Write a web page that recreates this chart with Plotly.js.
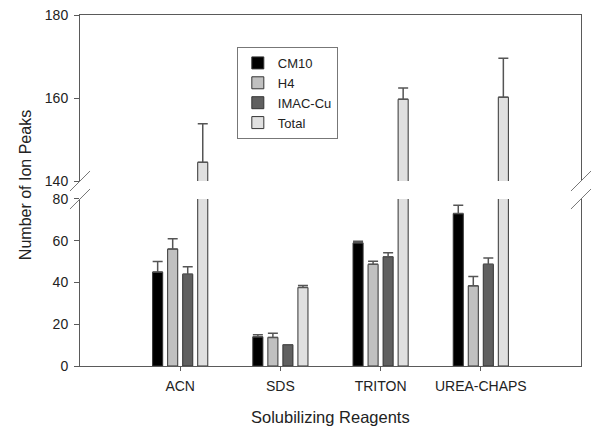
<!DOCTYPE html>
<html>
<head>
<meta charset="utf-8">
<script src="https://cdn.plot.ly/plotly-3.0.1.min.js"></script>
<style>html,body{margin:0;padding:0;background:#fff;}#chart{width:600px;height:432px;}</style>
</head>
<body>
<div id="chart"></div>
<script>
const categories = ["ACN", "SDS", "TRITON", "UREA-CHAPS"];
const seriesNames = ["CM10", "H4", "IMAC-Cu", "Total"];
const cm10 = [45, 14, 59, 73];
const cm10Err = [5, 1, 0.7, 4];
const h4 = [56, 13.7, 48.7, 38.4];
const h4Err = [5, 2, 1.5, 4.5];
const imac = [44, 10.2, 52.3, 48.7];
const imacErr = [3.5, 0, 2, 3];
const total = [144.5, 37.6, 159.7, 160.2];
const totalErr = [9.3, 1, 2.7, 9.4];
const noErr = [0, 0, 0, 0];
const lowerTicks = [0, 20, 40, 60, 80];
const upperTicks = [140, 160, 180];

const values = [cm10, h4, imac, total];
const errs = [cm10Err, h4Err, imacErr, totalErr];
const colors = ["#000000", "#c0c0c0", "#606060", "#e0e0e0"];

const traces = [];
[["x", "y", true], ["x2", "y2", false]].forEach(function (ax) {
  seriesNames.forEach(function (name, i) {
    traces.push({
      type: "bar",
      name: name,
      x: categories,
      y: values[i],
      xaxis: ax[0],
      yaxis: ax[1],
      showlegend: ax[2],
      marker: { color: colors[i], line: { color: "#333333", width: 1 } },
      error_y: {
        type: "data", symmetric: false, array: errs[i], arrayminus: noErr,
        color: "#555555", thickness: 1.5, width: 5
      },
      hoverinfo: "skip"
    });
  });
});

const lowTop = 0.4758, upBot = 0.527;
const dx = 0.02, dy = 0.0285;
function slash(xc, yc) {
  return { type: "line", xref: "paper", yref: "paper",
    x0: xc - dx, y0: yc - dy, x1: xc + dx, y1: yc + dy,
    line: { color: "#777777", width: 1 } };
}

const fontFam = "Liberation Sans, Arial, sans-serif";
const layout = {
  width: 600, height: 432,
  margin: { l: 80, r: 19, t: 15, b: 66 },
  paper_bgcolor: "#ffffff", plot_bgcolor: "#ffffff",
  font: { family: fontFam, size: 14, color: "#222222" },
  barmode: "group", bargap: 0.4, bargroupgap: 0.33,
  showlegend: true,
  legend: {
    x: 0.313, y: 0.909, xanchor: "left", yanchor: "top",
    bordercolor: "#777777", borderwidth: 1, bgcolor: "#ffffff",
    font: { family: fontFam, size: 13, color: "#222222" },
    traceorder: "normal"
  },
  xaxis: {
    anchor: "y", range: [-1, 4], type: "category",
    showline: true, linecolor: "#5a5a5a", linewidth: 1,
    ticks: "outside", ticklen: 4, tickcolor: "#5a5a5a",
    showgrid: false, zeroline: false, ticklabelstandoff: 3,
    tickfont: { size: 14, color: "#222222" }
  },
  xaxis2: {
    anchor: "y2", range: [-1, 4], type: "category", side: "top",
    showline: true, linecolor: "#5a5a5a", linewidth: 1,
    ticks: "", showticklabels: false, showgrid: false, zeroline: false
  },
  yaxis: {
    anchor: "x", domain: [0, lowTop], range: [0, 80],
    tickvals: lowerTicks, ticks: "outside", ticklen: 5, tickcolor: "#5a5a5a",
    showline: true, mirror: true, linecolor: "#5a5a5a", linewidth: 1,
    showgrid: false, zeroline: false, ticklabelstandoff: 3,
    tickfont: { size: 14, color: "#222222" }
  },
  yaxis2: {
    anchor: "x2", domain: [upBot, 1], range: [140, 180],
    tickvals: upperTicks, ticks: "outside", ticklen: 5, tickcolor: "#5a5a5a",
    showline: true, mirror: true, linecolor: "#5a5a5a", linewidth: 1,
    showgrid: false, zeroline: false, ticklabelstandoff: 3,
    tickfont: { size: 14, color: "#222222" }
  },
  shapes: [slash(0, upBot), slash(0, lowTop), slash(1, upBot), slash(1, lowTop)],
  annotations: [
    { text: "Number of Ion Peaks", xref: "paper", yref: "paper",
      x: -0.11, y: 0.515, xanchor: "center", yanchor: "middle",
      textangle: -90, showarrow: false,
      font: { family: fontFam, size: 16, color: "#222222" } },
    { text: "Solubilizing Reagents", xref: "paper", yref: "paper",
      x: 0.5, y: -0.145, xanchor: "center", yanchor: "middle",
      showarrow: false,
      font: { family: fontFam, size: 16.5, color: "#222222" } }
  ]
};

Plotly.newPlot("chart", traces, layout, { displayModeBar: false, staticPlot: true });
</script>
</body>
</html>
